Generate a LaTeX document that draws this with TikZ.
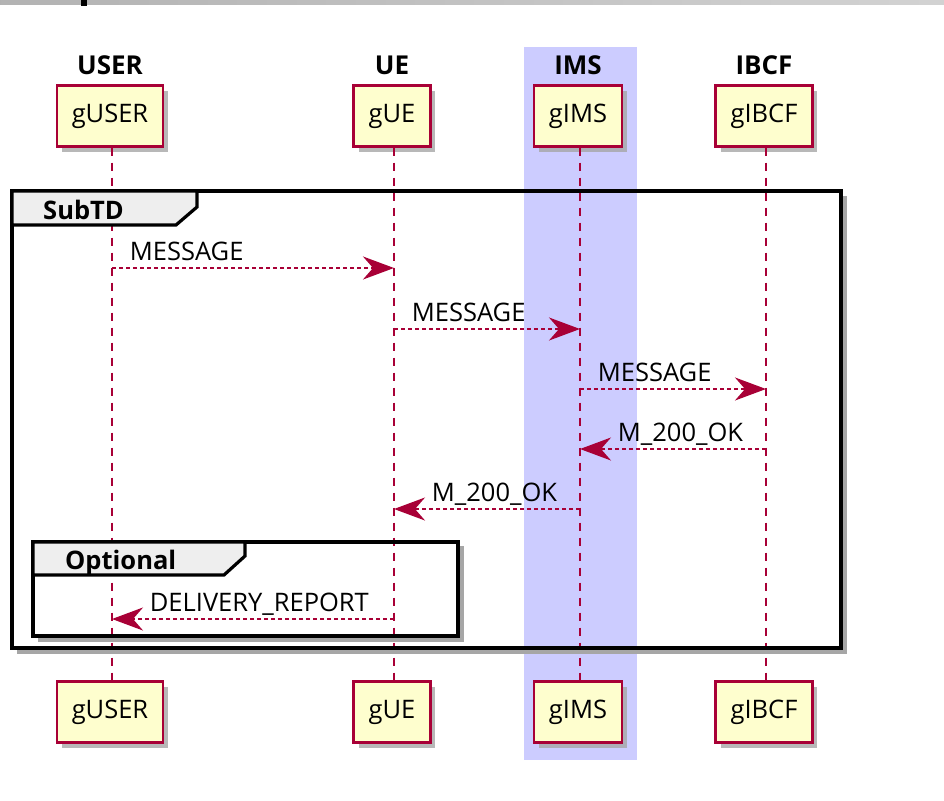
\documentclass[tikz,border=0pt]{standalone}
\usepackage{fontspec}
\setmainfont{Open Sans}
\usetikzlibrary{arrows.meta}
\usetikzlibrary{positioning}
\usetikzlibrary{shadows}
\definecolor{umlred}{HTML}{A80036}
\definecolor{umlfill}{HTML}{FEFECE}
\definecolor{umlblue}{HTML}{CCCCFF}
\definecolor{tabgris}{HTML}{EEEEEE}
\definecolor{ombre}{rgb}{0.65,0.65,0.65}

\begin{document}
\begin{tikzpicture}[x=1pt, y=-1pt, font=\fontsize{25.5}{30}\selectfont]
  \tikzstyle{part}=[rectangle, draw=umlred, line width=2.4pt, fill=umlfill, minimum height=61pt, inner xsep=15pt, drop shadow={shadow xshift=5pt, shadow yshift=-5pt, fill=ombre, opacity=0.8}]
  \tikzstyle{title}=[font=\fontsize{26}{30}\selectfont\bfseries, inner sep=0pt]
  \tikzstyle{life}=[umlred, line width=1.8pt, dash pattern=on 8pt off 7pt]
  \tikzstyle{msg}=[umlred, line width=1.8pt, dash pattern=on 4pt off 3pt, -{Stealth[length=31pt, width=23pt, inset=10pt]}]
  \tikzstyle{lbl}=[text=black, inner sep=0pt, anchor=base west]
  \tikzstyle{frame}=[black, line width=4pt]
  \tikzstyle{tab}=[black, line width=3.2pt, fill=tabgris, line join=miter]
  \tikzstyle{frameshadow}=[ombre, line width=4pt]

  \useasboundingbox (0,0) rectangle (944,800);

  % top strip
  \shade[left color=gray!60, right color=gray!35] (0,0) rectangle (944,5);
  \fill[black] (81,0) rectangle (87,6);

  % IMS highlight
  \fill[umlblue] (524,47) rectangle (637,760);

  % participants
  \node[part] (userT) at (110,116) {gUSER};
  \node[part] (ueT)   at (392,116) {gUE};
  \node[part] (imsT)  at (578,116) {gIMS};
  \node[part] (ibcfT) at (764,116) {gIBCF};
  \node[part] (userB) at (110,712) {gUSER};
  \node[part] (ueB)   at (392,712) {gUE};
  \node[part] (imsB)  at (578,712) {gIMS};
  \node[part] (ibcfB) at (764,712) {gIBCF};

  \node[title, above=9pt of userT] (userL) {USER};
  \node[title, above=9pt of ueT]   (ueL)   {UE};
  \node[title, above=9pt of imsT]  (imsL)  {IMS};
  \node[title, above=9pt of ibcfT] (ibcfL) {IBCF};

  % lifelines
  \draw[life] ([xshift=2pt]userT.south) -- ([xshift=2pt]userB.north);
  \draw[life] ([xshift=2pt]ueT.south)   -- ([xshift=2pt]ueB.north);
  \draw[life] ([xshift=2pt]imsT.south)  -- ([xshift=2pt]imsB.north);
  \draw[life] ([xshift=2pt]ibcfT.south) -- ([xshift=2pt]ibcfB.north);

  % group SubTD
  \draw[frameshadow] (845,196) -- (845,652) -- (17,652);
  \draw[frame] (12,191) rectangle (841,648);
  \draw[tab] (12,191) -- (197,191) -- (197,207) -- (176,225) -- (12,225) -- cycle;
  \node[lbl, font=\fontsize{25.5}{30}\selectfont\bfseries] (subL) at (43,219) {SubTD};

  % group Optional
  \draw[frameshadow] (462,546) -- (462,640) -- (38,640);
  \draw[frame] (33,542) rectangle (458,636);
  \draw[tab] (33,542) -- (245,542) -- (245,556) -- (224,575) -- (33,575) -- cycle;
  \node[lbl, font=\fontsize{25.5}{30}\selectfont\bfseries] (optL) at (65,569) {Optional};

  % messages
  \draw[msg] ([xshift=2pt]userT |- 0,268) -- ([xshift=2pt]ueT |- 0,268)
    node[lbl, at start, xshift=17pt, yshift=8pt] {MESSAGE};
  \draw[msg] ([xshift=2pt]ueT |- 0,329) -- ([xshift=2pt]imsT |- 0,329)
    node[lbl, at start, xshift=17pt, yshift=8pt] {MESSAGE};
  \draw[msg] ([xshift=2pt]imsT |- 0,389) -- ([xshift=2pt]ibcfT |- 0,389)
    node[lbl, at start, xshift=17pt, yshift=8pt] {MESSAGE};
  \draw[msg] ([xshift=2pt]ibcfT |- 0,449) -- ([xshift=2pt]imsT |- 0,449)
    node[lbl, at end, xshift=37pt, yshift=8pt] {M\_200\_OK};
  \draw[msg] ([xshift=2pt]imsT |- 0,509) -- ([xshift=2pt]ueT |- 0,509)
    node[lbl, at end, xshift=37pt, yshift=8pt] {M\_200\_OK};
  \draw[msg] ([xshift=2pt]ueT |- 0,619) -- ([xshift=2pt]userT |- 0,619)
    node[lbl, at end, xshift=37pt, yshift=8pt] {DELIVERY\_REPORT};

\end{tikzpicture}
\end{document}
